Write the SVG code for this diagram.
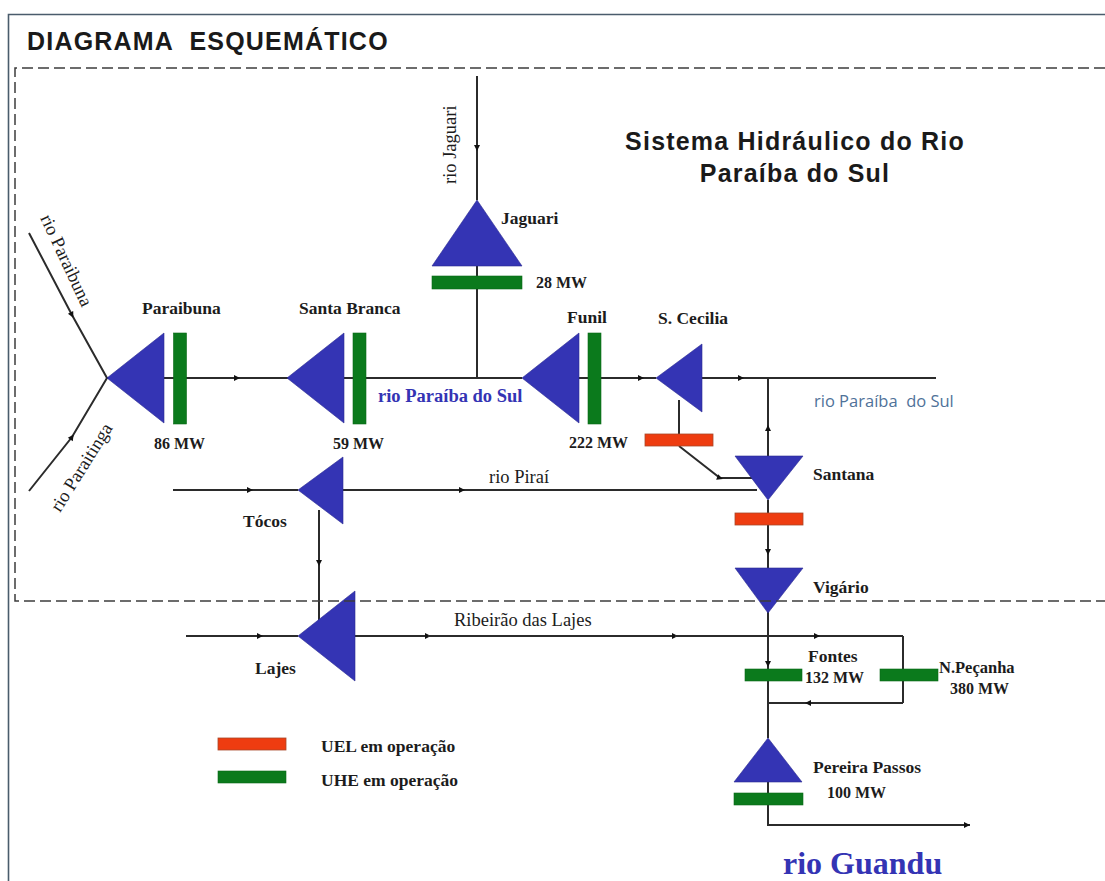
<svg xmlns="http://www.w3.org/2000/svg" width="1105" height="881" viewBox="0 0 1105 881">
<style>
.c{fill:none;stroke:#2b2b2b;stroke-width:2}
.m{marker-mid:url(#a);marker-end:none}
.t{fill:#3434b4;stroke:#2a2a90;stroke-width:.6}
.g{fill:#0b7a1c;stroke:#0a6a18;stroke-width:.6}
.r{fill:#ee3c10;stroke:#a8482a;stroke-width:.8}
.l{font-family:"Liberation Serif",serif;font-weight:700;font-size:17.5px;fill:#1c1c1c}
.n{font-family:"Liberation Serif",serif;font-size:16px;fill:#1c1c1c;font-weight:700}
.v{font-family:"Liberation Serif",serif;font-size:18.5px;fill:#1c1c1c}
.h{font-family:"Liberation Sans",sans-serif;font-weight:700;fill:#1a1a1a;font-size:25px;letter-spacing:1.2px}
</style>
<defs>
<marker id="a" markerUnits="userSpaceOnUse" markerWidth="10" markerHeight="10" refX="4" refY="4" orient="auto"><path d="M1,1L7,4L1,7Z" fill="#111"/></marker>
<marker id="e" markerUnits="userSpaceOnUse" markerWidth="10" markerHeight="10" refX="7" refY="4" orient="auto"><path d="M1,1L7,4L1,7Z" fill="#111"/></marker>
</defs>
<rect width="1105" height="881" fill="#fff"/>
<path d="M8.5,881V14.5H1105" fill="none" stroke="#4a5c6c" stroke-width="1.6"/>
<text class="h" x="27" y="50" xml:space="preserve">DIAGRAMA  ESQUEMÁTICO</text>
<g id="connectors">
<polyline class="c m" points="477,76 477,148 477,200"/>
<path class="c" d="M477,266V378"/>
<polyline class="c m" points="29,233 72,315 107,378"/>
<polyline class="c m" points="29,491 72,437 107,378"/>
<polyline class="c m" points="107,378 237,378 287,378"/>
<path class="c" d="M287,378H522"/>
<polyline class="c m" points="579,378 641,378 656,378"/>
<polyline class="c m" points="702,378 741,378 936,378"/>
<polyline class="c m" points="768,456 768,428 768,378"/>
<path class="c" d="M679,400V440"/>
<polyline class="c m" points="679,446 720,478 752,478"/>
<polyline class="c m" points="173,490 250,490 298,490"/>
<polyline class="c m" points="343,490 462,490 757,490"/>
<polyline class="c m" points="319,510 319,563 319,625"/>
<polyline class="c m" points="186,636 260,636 298,636"/>
<polyline class="c m" points="355,636 428,636 675,636"/>
<polyline class="c m" points="428,636 675,636 817,636"/>
<polyline class="c m" points="675,636 817,636 903,636"/>
<path class="c" d="M903,636V703"/>
<polyline class="c m" points="903,703 808,703 768,703"/>
<polyline class="c m" points="768,500 768,552 768,568"/>
<polyline class="c m" points="768,600 768,664 768,738"/>
<polyline class="c" points="768,782 768,825 970,825" marker-end="url(#e)"/>
</g>
<g id="jaguari"><path class="t" d="M477,200L522,266H432Z"/><rect class="g" x="432" y="276" width="90" height="13"/><text class="l" x="501" y="224">Jaguari</text><text class="n" x="536" y="288">28 MW</text></g>
<g id="paraibuna"><path class="t" d="M107,378L164,333V423Z"/><rect class="g" x="173.500" y="333" width="13" height="91"/><text class="l" x="142" y="314">Paraibuna</text><text class="n" x="154" y="449">86 MW</text></g>
<g id="santa-branca"><path class="t" d="M287,378L344,333V423Z"/><rect class="g" x="353" y="333" width="13" height="91"/><text class="l" x="299" y="314">Santa Branca</text><text class="n" x="333" y="449">59 MW</text></g>
<g id="funil"><path class="t" d="M522,378L579,333V423Z"/><rect class="g" x="588" y="333" width="13" height="91"/><text class="l" x="567" y="323">Funil</text><text class="n" x="569" y="448">222 MW</text></g>
<g id="s-cecilia"><path class="t" d="M656,378L702,344V412Z"/><rect class="r" x="645" y="434" width="68" height="12"/><text class="l" x="658" y="324">S. Cecilia</text></g>
<g id="santana"><path class="t" d="M735,456H803L768,500Z"/><rect class="r" x="735" y="513" width="68" height="12"/><text class="l" x="813" y="480">Santana</text></g>
<g id="vigario"><path class="t" d="M735,568H803L768,613Z"/><text class="l" x="813" y="593">Vigário</text></g>
<g id="tocos"><path class="t" d="M298,490L343,457V524Z"/><text class="l" x="243" y="527">Tócos</text></g>
<g id="lajes"><path class="t" d="M298,636L355,591V681Z"/><text class="l" x="255" y="674">Lajes</text></g>
<g id="fontes"><rect class="g" x="745" y="669" width="57" height="12"/><text class="l" x="808" y="662">Fontes</text><text class="n" x="805" y="683">132 MW</text></g>
<g id="n-pecanha"><rect class="g" x="880" y="669" width="58" height="12"/><text class="l" x="939" y="673" style="font-size:16.500px">N.Peçanha</text><text class="n" x="950" y="694">380 MW</text></g>
<g id="pereira-passos"><path class="t" d="M768,738L802,782H734Z"/><rect class="g" x="734" y="793" width="69" height="12"/><text class="l" x="813" y="773">Pereira Passos</text><text class="n" x="827" y="798">100 MW</text></g>
<g id="labels">
<text class="h" x="795" y="150" text-anchor="middle">Sistema Hidráulico do Rio</text>
<text class="h" x="795" y="182" text-anchor="middle">Paraíba do Sul</text>
<text class="v" transform="translate(456,184) rotate(-90)">rio Jaguari</text>
<text class="v" transform="translate(40,218) rotate(65)">rio Paraibuna</text>
<text class="v" transform="translate(60,513) rotate(-58)">rio Paraitinga</text>
<text class="l" x="378" y="402" style="fill:#3434b4;font-size:18.500px">rio Paraíba do Sul</text>
<text x="814" y="407" font-family="'Open Sans',sans-serif" font-size="16.500" fill="#4f7299" xml:space="preserve">rio Paraíba  do Sul</text>
<text class="v" x="489" y="483">rio Piraí</text>
<text class="v" x="454" y="626">Ribeirão das Lajes</text>
<text x="783" y="874" font-family="'Liberation Serif',serif" font-weight="700" font-size="32" fill="#3434b4">rio Guandu</text>
</g>
<g id="legend">
<rect class="r" x="218" y="738" width="68" height="12"/>
<rect class="g" x="218" y="771" width="68" height="12"/>
<text class="l" x="321" y="752">UEL em operação</text>
<text class="l" x="321" y="786">UHE em operação</text>
</g>
<path id="boundary" d="M1105,68H15V601H1105" fill="none" stroke="#3c3c3c" stroke-width="1.500" stroke-dasharray="11 5"/>
</svg>
